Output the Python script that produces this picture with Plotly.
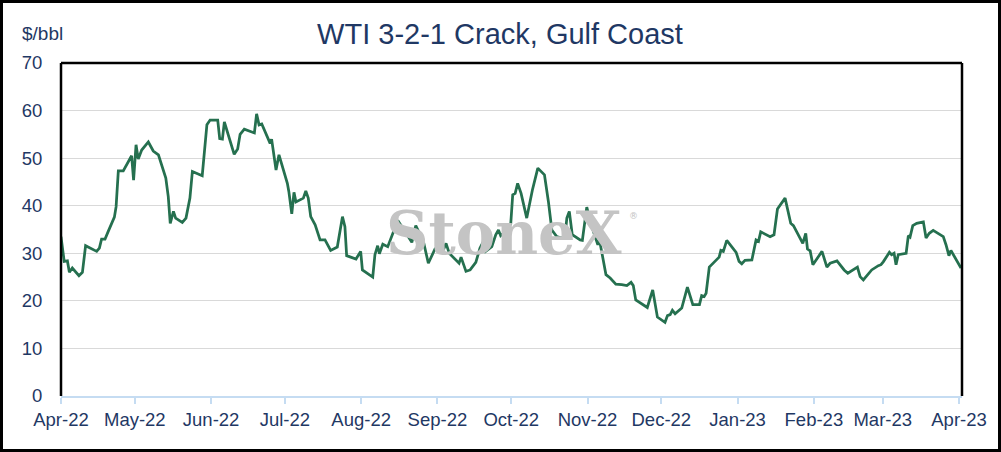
"""
WTI 3-2-1 Crack, Gulf Coast - daily crack spread line chart with StoneX watermark.
"""
import pandas as pd
import plotly.graph_objects as go

# days counted from 2022-04-01, values in $/bbl
day_offset = [
    0, 1.3, 2.6, 3.4, 4.6, 7.3, 8.7, 10.0, 14.5, 15.6, 16.5, 17.9, 19.2, 21.7, 22.4,
    23.3, 25.3, 28.7, 29.5, 30.5, 31.4, 32.8, 35.5, 37.5, 39.6, 42.6, 43.6, 44.4, 45.7,
    46.6, 49.3, 50.8, 52.4, 53.4, 57.4, 59.3, 60.6, 63.7, 64.5, 65.6, 66.4, 70.4, 71.8,
    72.8, 74.5, 78.6,
    79.5, 80.5, 81.6, 84.3, 85.0, 85.6, 87.4, 88.6, 92.0, 92.6, 93.8, 94.7, 95.5, 98.5,
    99.5, 100.5, 101.5, 103.3, 105.3, 107.3, 109.6, 112.3, 114.4, 115.4, 116.1, 119.9,
    121.8, 122.5, 126.7, 127.6, 128.7, 129.4, 130.8, 132.8, 134.4, 136.9, 139.8, 142.6,
    144.2, 147.3, 149.3, 151.1, 152.0, 155.4, 156.5, 157.8,
    160.8, 161.8, 162.6, 163.5, 164.6, 166.3, 168.6, 170.3, 171.7, 172.6, 175.1, 176.7,
    177.8, 178.7, 181.2, 182.8, 183.6, 184.6, 185.6, 187.0, 189.3, 191.6, 193.8, 196.5,
    198.1, 199.5, 201.5, 203.6, 204.9, 205.6, 206.6, 207.8, 211.0, 211.9, 213.7, 215.3,
    217.4, 218.2, 218.8, 221.5, 223.2, 225.5, 227.9, 230.0, 231.7, 232.6, 233.6, 238.3,
    240.5, 242.4, 245.5, 246.5, 247.6, 248.5, 249.6, 252.3, 254.6, 256.8, 259.5, 260.4,
    261.4, 262.2, 263.5, 267.5, 268.2, 269.2, 270.6, 274.4, 275.6, 276.7, 278.0, 280.8,
    282.5, 283.5, 284.4, 286.2, 288.2, 289.8, 291.2, 294.3, 296.6, 297.7, 301.5, 302.7,
    303.4, 304.5, 305.6, 309.3, 311.3, 312.6, 315.4,
    318.3, 319.8, 323.7, 324.8, 326.1, 329.5, 332.2, 333.3, 334.2, 336.7, 337.6, 338.6,
    339.4, 340.3, 343.5, 344.4, 345.1, 346.2, 347.8, 350.5, 351.6, 352.9, 354.5, 358.6,
    359.7, 360.9, 361.7, 364.1, 365.8,
]
crack = [
    33.5, 28.3, 28.4, 26.0, 26.9, 25.3, 26.0, 31.6, 30.4, 31.1, 33.0, 33.0, 34.6, 37.6, 39.8,
    47.3, 47.3, 50.5, 45.4, 52.8, 49.8, 51.7, 53.4, 51.5, 50.7, 45.8, 41.9, 36.3, 38.8,
    37.4, 36.5, 37.4, 41.6, 47.2, 46.3, 57.0, 58.0, 58.0, 54.1, 54.0, 57.6, 50.8, 51.9,
    55.0, 56.1, 55.3,
    59.3, 57.0, 57.2, 54.2, 53.1, 54.0, 47.5, 50.7, 44.7, 43.0, 38.3, 42.8, 40.8, 41.6,
    43.1, 41.6, 37.7, 36.0, 32.8, 32.8, 30.6, 31.3, 37.7, 35.6, 29.5, 28.8,
    30.4, 26.5, 25.0, 29.7, 31.6, 29.9, 31.9, 31.4, 33.5, 36.9, 34.6, 32.3,
    35.8, 32.5, 27.9, 30.0, 30.9, 30.7, 32.1, 30.0,
    28.3, 27.9, 29.2, 27.9, 26.2, 26.5, 28.1, 31.1, 32.5, 30.4, 31.4, 33.9,
    34.9, 33.7, 34.9, 36.2, 42.3, 42.6, 44.7, 42.6, 37.4, 43.3, 47.9, 46.5,
    40.9, 34.9, 33.5, 33.2, 33.9, 37.4, 38.8, 33.9, 32.8, 32.7, 39.7, 36.3,
    32.8, 31.8, 33.0, 25.5, 24.8, 23.5, 23.4, 23.2, 23.9, 23.2, 20.2, 18.6,
    22.3, 16.6, 15.5, 16.9, 17.1, 18.0, 17.3, 18.5, 22.9, 19.2, 19.2, 21.1,
    20.9, 21.6, 27.1, 29.2, 30.6, 30.4, 32.7, 30.2, 28.3, 27.8, 28.5, 28.6,
    32.8, 32.5, 34.5, 34.1, 33.5, 33.9, 39.3, 41.6, 36.3, 35.8, 32.1, 34.2,
    30.9, 30.5, 27.6, 30.4, 27.1, 27.9, 28.4,
    26.5, 25.8, 27.1, 25.1, 24.4, 26.5, 27.4, 27.6, 28.2, 30.2, 29.7, 30.0,
    27.6, 29.7, 30.0, 33.7, 33.4, 35.8, 36.3, 36.6, 33.2, 34.2, 34.8, 33.5,
    31.8, 29.5, 30.6, 28.3, 26.9,
]
month_ticks = pd.date_range("2022-04-01", "2023-04-01", freq="MS")

dates = pd.Timestamp("2022-04-01") + pd.to_timedelta(day_offset, unit="D")

navy = "#1f3864"
green = "#25704f"
light_blue = "#c5dcf2"

fig = go.Figure()
fig.add_trace(go.Scatter(x=dates, y=crack, mode="lines",
                         line=dict(color=green, width=2.75), showlegend=False))

fig.update_layout(
    width=1001, height=452,
    margin=dict(l=61, r=39, t=63, b=56),
    paper_bgcolor="white", plot_bgcolor="white",
    font=dict(family="Liberation Sans, Arial", color=navy, size=18),
    title=dict(text="WTI 3-2-1 Crack, Gulf Coast", x=0.4995, xref="container",
               y=0.925, yref="container", xanchor="center", yanchor="middle",
               font=dict(size=29, color=navy)),
)
fig.update_xaxes(
    type="date", range=["2022-04-01", "2023-04-02 05:00"],
    tickvals=month_ticks, tickformat="%b-%y",
    ticks="outside", ticklen=6, tickwidth=2, tickcolor=light_blue,
    showline=True, linecolor=light_blue, linewidth=2,
    showgrid=False, zeroline=False, tickfont=dict(size=18.5, color=navy),
)
fig.update_yaxes(
    range=[0, 70], dtick=10, showgrid=True, gridcolor="#d9d9d9", gridwidth=1,
    zeroline=False, showline=False, ticks="outside", ticklen=14,
    tickcolor="rgba(0,0,0,0)", tickfont=dict(size=18.5, color=navy),
)

# black frame on left, top and right of the plot area
for x0, y0, x1, y1 in [(0, 0, 0, 1), (0, 1, 1, 1), (1, 0, 1, 1)]:
    fig.add_shape(type="line", xref="paper", yref="paper", x0=x0, y0=y0, x1=x1, y1=y1,
                  line=dict(color="black", width=2.5), layer="above")
# outer border around the whole picture
fig.add_shape(type="rect", xref="paper", yref="paper",
              x0=-59.5 / 901, x1=938.5 / 901, y0=-54.5 / 333, y1=394.5 / 333,
              line=dict(color="black", width=3), layer="above")

fig.add_annotation(text="$/bbl", xref="paper", yref="paper", x=-0.045, y=1.09,
                   xanchor="left", yanchor="middle", showarrow=False,
                   font=dict(size=19, color=navy))

# StoneX watermark behind the line
fig.add_annotation(text="StoneX", xref="paper", yref="paper",
                   x=0.4917, y=0.488, xanchor="center", yanchor="middle", showarrow=False,
                   font=dict(family="DejaVu Serif", size=59, color="#c4c4c4", weight="bold"))
fig.add_annotation(text="®", xref="paper", yref="paper", x=(633 - 61) / 901, y=(396 - 216) / 333,
                   xanchor="center", yanchor="middle", showarrow=False,
                   font=dict(family="DejaVu Sans", size=9, color="#c4c4c4"))

fig.write_html("out.html", config={"displayModeBar": False},
               post_script="document.body.style.margin='0';document.body.style.overflow='hidden';")
